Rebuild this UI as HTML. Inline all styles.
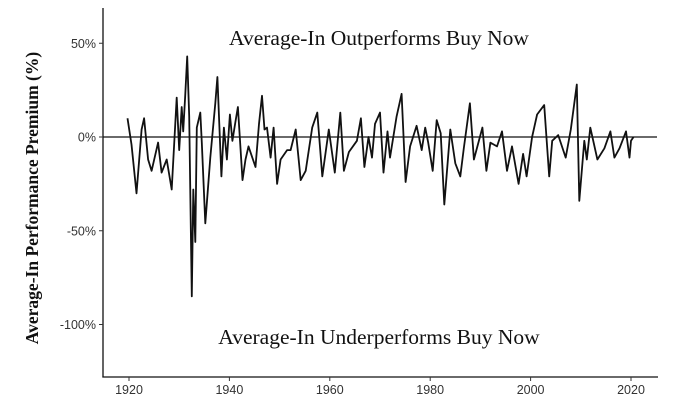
<!DOCTYPE html>
<html><head><meta charset="utf-8"><style>
html,body{margin:0;padding:0;background:#fff;}
svg{display:block;}
</style></head><body>
<svg id="chart" width="690" height="401" viewBox="0 0 690 401" xmlns="http://www.w3.org/2000/svg">
<g id="axes"></g>
<path id="series" fill="none" stroke="#111" stroke-width="1.8" stroke-linejoin="round"></path>
<text x="379" y="45" text-anchor="middle" font-family="Liberation Serif, serif" font-size="21.5" fill="#111">Average-In Outperforms Buy Now</text>
<text x="379" y="344" text-anchor="middle" font-family="Liberation Serif, serif" font-size="21.5" fill="#111">Average-In Underperforms Buy Now</text>
<text transform="translate(38,198) rotate(-90)" text-anchor="middle" font-family="Liberation Serif, serif" font-size="17.5" font-weight="bold" fill="#111">Average-In Performance Premium (%)</text>
</svg>
<script>
const years=[1919.7,1920.5,1921.5,1922.5,1923,1923.8,1924.5,1925.8,1926.5,1927.5,1928.5,1929.5,1930,1930.5,1930.8,1931.2,1931.6,1932,1932.5,1932.8,1933.2,1933.5,1934.2,1934.5,1935.2,1936.2,1937.2,1937.6,1938.4,1938.9,1939.5,1940.1,1940.6,1941.2,1941.7,1942.6,1943.2,1943.8,1945.2,1945.9,1946.5,1947,1947.5,1948.2,1948.8,1949.5,1950.2,1951.5,1952.2,1953.2,1954.2,1955.2,1956.5,1957.5,1958.5,1959.8,1961,1962.1,1962.8,1963.8,1965.4,1966.2,1966.9,1967.7,1968.4,1969,1970,1970.7,1971.5,1972,1973.3,1974.3,1975.1,1976,1977.3,1978.3,1979,1979.6,1980.5,1981.3,1982.1,1982.8,1984,1985,1986,1986.7,1987.9,1988.7,1990.4,1991.2,1992,1993.3,1994.3,1995.3,1996.3,1997.6,1998.5,1999.2,2000.3,2001.3,2002.7,2003.7,2004.3,2005.5,2007,2008,2009.2,2009.7,2010.7,2011.2,2011.9,2013.3,2014.7,2015.9,2016.7,2017.7,2019,2019.7,2020,2020.5];
const premium=[10,-4,-30,4,10,-12,-18,-3,-19,-12,-28,21,-7,16,3,22,43,11,-85,-28,-56,5,13,-3,-46,-11,18,32,-21,5,-12,12,-2,8,16,-23,-12,-5,-16,7,22,4,5,-11,5,-25,-12,-7,-7,4,-23,-18,5,13,-21,4,-19,13,-18,-8,-2,10,-16,0,-11,7,13,-19,3,-11,11,23,-24,-5,6,-7,5,-3,-18,9,2,-36,4,-14,-21,-6,18,-12,5,-18,-3,-5,3,-18,-5,-25,-9,-21,0,12,17,-21,-2,1,-11,4,28,-34,-2,-12,5,-12,-6,3,-11,-6,3,-11,-2,0];
const xTicks=[1920,1940,1960,1980,2000,2020];
const yTicks=[50,0,-50,-100];
const yTickLabels=["50%","0%","-50%","-100%"];
const X=y=>129+(y-1920)*5.02;
const Y=v=>137-v*1.875;
const NS="http://www.w3.org/2000/svg";
const ax=document.getElementById('axes');
function mk(tag,attrs){const e=document.createElementNS(NS,tag);for(const k in attrs)e.setAttribute(k,attrs[k]);ax.appendChild(e);return e;}
let l=mk('line',{x1:103,y1:8,x2:103,y2:377.5,stroke:'#111','stroke-width':1.3});


l=mk('line',{x1:102.4,y1:377,x2:658,y2:377,stroke:'#111','stroke-width':1.3});


l=mk('line',{x1:103,y1:Y(0),x2:657,y2:Y(0),stroke:'#111','stroke-width':1.3});


xTicks.forEach(t=>{
 const tk=mk('line',{x1:X(t),y1:377,x2:X(t),y2:381,stroke:'#333','stroke-width':1});
 
 
 const tx=mk('text',{x:X(t),y:394,'text-anchor':'middle','font-family':'Liberation Sans, sans-serif','font-size':12.5,fill:'#333'});
 tx.textContent=t;
 
 
});
yTicks.forEach((t,i)=>{
 const tk=mk('line',{x1:99,y1:Y(t),x2:103,y2:Y(t),stroke:'#333','stroke-width':1});
 
 
 const tx=mk('text',{x:96,y:Y(t)+4.5,'text-anchor':'end','font-family':'Liberation Sans, sans-serif','font-size':12.5,fill:'#333'});
 tx.textContent=yTickLabels[i];
 
 
});
document.getElementById('series').setAttribute('d',years.map((y,i)=>(i?'L':'M')+X(y).toFixed(1)+','+Y(premium[i]).toFixed(1)).join(''));
</script>
</body></html>
